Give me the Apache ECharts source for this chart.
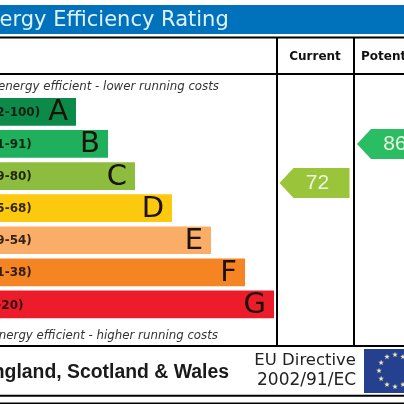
<!DOCTYPE html>
<html><head><meta charset="utf-8">
<style>html,body{margin:0;padding:0;background:#fff}#c{width:404px;height:404px}</style>
<script src="https://cdn.jsdelivr.net/npm/echarts@6/dist/echarts.min.js"></script>
</head><body><div id="c"></div>
<script>
const letters = ['A','B','C','D','E','F','G'];
const ranges = ['(92-100)','(81-91)','(69-80)','(55-68)','(39-54)','(21-38)','(1-20)'];
const barLengths = [76,108,135,172,211,245,274];
const barColors = ['#0b8a4a','#1eb05c','#8cbd3f','#fdc90e','#f9ad66','#f58522','#ed1c2b'];
const currentScore = 72;
const potentialScore = 86;
const title = 'Energy Efficiency Rating';
const topNote = 'Very energy efficient - lower running costs';
const bottomNote = 'Not energy efficient - higher running costs';
const arrow = 'path://M0 15 L14 0 L70 0 L70 30 L14 30 Z';
const F = '"DejaVu Sans"';

const rules = [[0,37.5,404,37.5],[0,74,404,74],[0,346,404,346],[0,395.7,404,395.7],[0,403.5,404,403.5],[277,37.5,277,346],[354,37.5,354,346]];
const g = [
 {type:'rect',shape:{x:0,y:5,width:404,height:29},style:{fill:'#0072bc'},z:1},
 {type:'text',x:-27,y:21,style:{text:title,font:'21px '+F,fill:'#dff2fb',textVerticalAlign:'middle'},z:2},
 {type:'text',x:315,y:57,style:{text:'Current',font:'bold 12px '+F,fill:'#111',textAlign:'center',textVerticalAlign:'middle'},z:2},
 {type:'text',x:361,y:57,style:{text:'Potential',font:'bold 12px '+F,fill:'#111',textVerticalAlign:'middle'},z:2},
 {type:'text',x:219,y:86.5,style:{text:topNote,font:'italic 11.8px '+F,fill:'#333',textAlign:'right',textVerticalAlign:'middle'},z:2},
 {type:'text',x:218,y:335.5,style:{text:bottomNote,font:'italic 11.8px '+F,fill:'#333',textAlign:'right',textVerticalAlign:'middle'},z:2},
 {type:'text',x:229,y:373,style:{text:'England, Scotland & Wales',font:'bold 19.4px "Liberation Sans"',fill:'#1a1a1a',textAlign:'right',textVerticalAlign:'middle'},z:2},
 {type:'text',x:356,y:361,style:{text:'EU Directive',font:'16.5px '+F,fill:'#222',textAlign:'right',textVerticalAlign:'middle'},z:2},
 {type:'text',x:356,y:381,style:{text:'2002/91/EC',font:'17px '+F,fill:'#222',textAlign:'right',textVerticalAlign:'middle'},z:2},
 {type:'rect',shape:{x:364,y:349,width:40,height:44},style:{fill:'#25408f'},z:1}
];
rules.forEach(r=>g.push({type:'line',shape:{x1:r[0],y1:r[1],x2:r[2],y2:r[3]},style:{stroke:'#000',lineWidth:2},z:3}));
for(let i=0;i<12;i++){
  const a=i*Math.PI/6, cx=395+16*Math.sin(a), cy=370.7-16*Math.cos(a), pts=[];
  for(let k=0;k<10;k++){const r=k%2?1.2:2.9,t=k*Math.PI/5;pts.push([cx+r*Math.sin(t),cy-r*Math.cos(t)]);}
  g.push({type:'polygon',shape:{points:pts},style:{fill:'#e8e6b0'},z:2});
}
const chart = echarts.init(document.getElementById('c'),null,{renderer:'canvas'});
chart.setOption({
 animation:false,
 graphic:g,
 grid:{left:0,top:95.8,width:404,height:224.7,containLabel:false},
 xAxis:{type:'value',min:0,max:404,show:false},
 yAxis:[
  {type:'category',data:letters,inverse:true,show:false},
  {type:'value',min:22.65,max:103.3,show:false}
 ],
 series:[
  {type:'bar',barWidth:27.7,barGap:'-100%',data:barLengths.map((v,i)=>({value:v,itemStyle:{color:barColors[i]}})),
   label:{show:true,position:'insideRight',distance:8,offset:[0,1],formatter:p=>p.name,fontFamily:'DejaVu Sans',fontSize:29,color:'#1c1208'}},
  {type:'bar',barWidth:27.7,barGap:'-100%',data:barLengths.map((v,i)=>({value:v,itemStyle:{color:'transparent'}})),z:5,
   label:{show:true,position:'insideLeft',distance:0,offset:[-17.5,1],formatter:p=>ranges[p.dataIndex],fontFamily:'DejaVu Sans',fontWeight:'bold',fontSize:12,color:'rgba(20,15,10,0.88)'}},
  {type:'scatter',yAxisIndex:1,symbol:arrow,symbolSize:[70,30],clip:false,
   data:[
    {value:[314.5,currentScore],itemStyle:{color:'#9ac43a',opacity:1},label:{formatter:String(currentScore),offset:[3,0]}},
    {value:[392,potentialScore],itemStyle:{color:'#2bbd63',opacity:1},label:{formatter:String(potentialScore),offset:[3,0]}}
   ],
   label:{show:true,position:'inside',fontFamily:'Liberation Sans',fontSize:21,color:'#eef6e0'}}
 ]
});
</script></body></html>
